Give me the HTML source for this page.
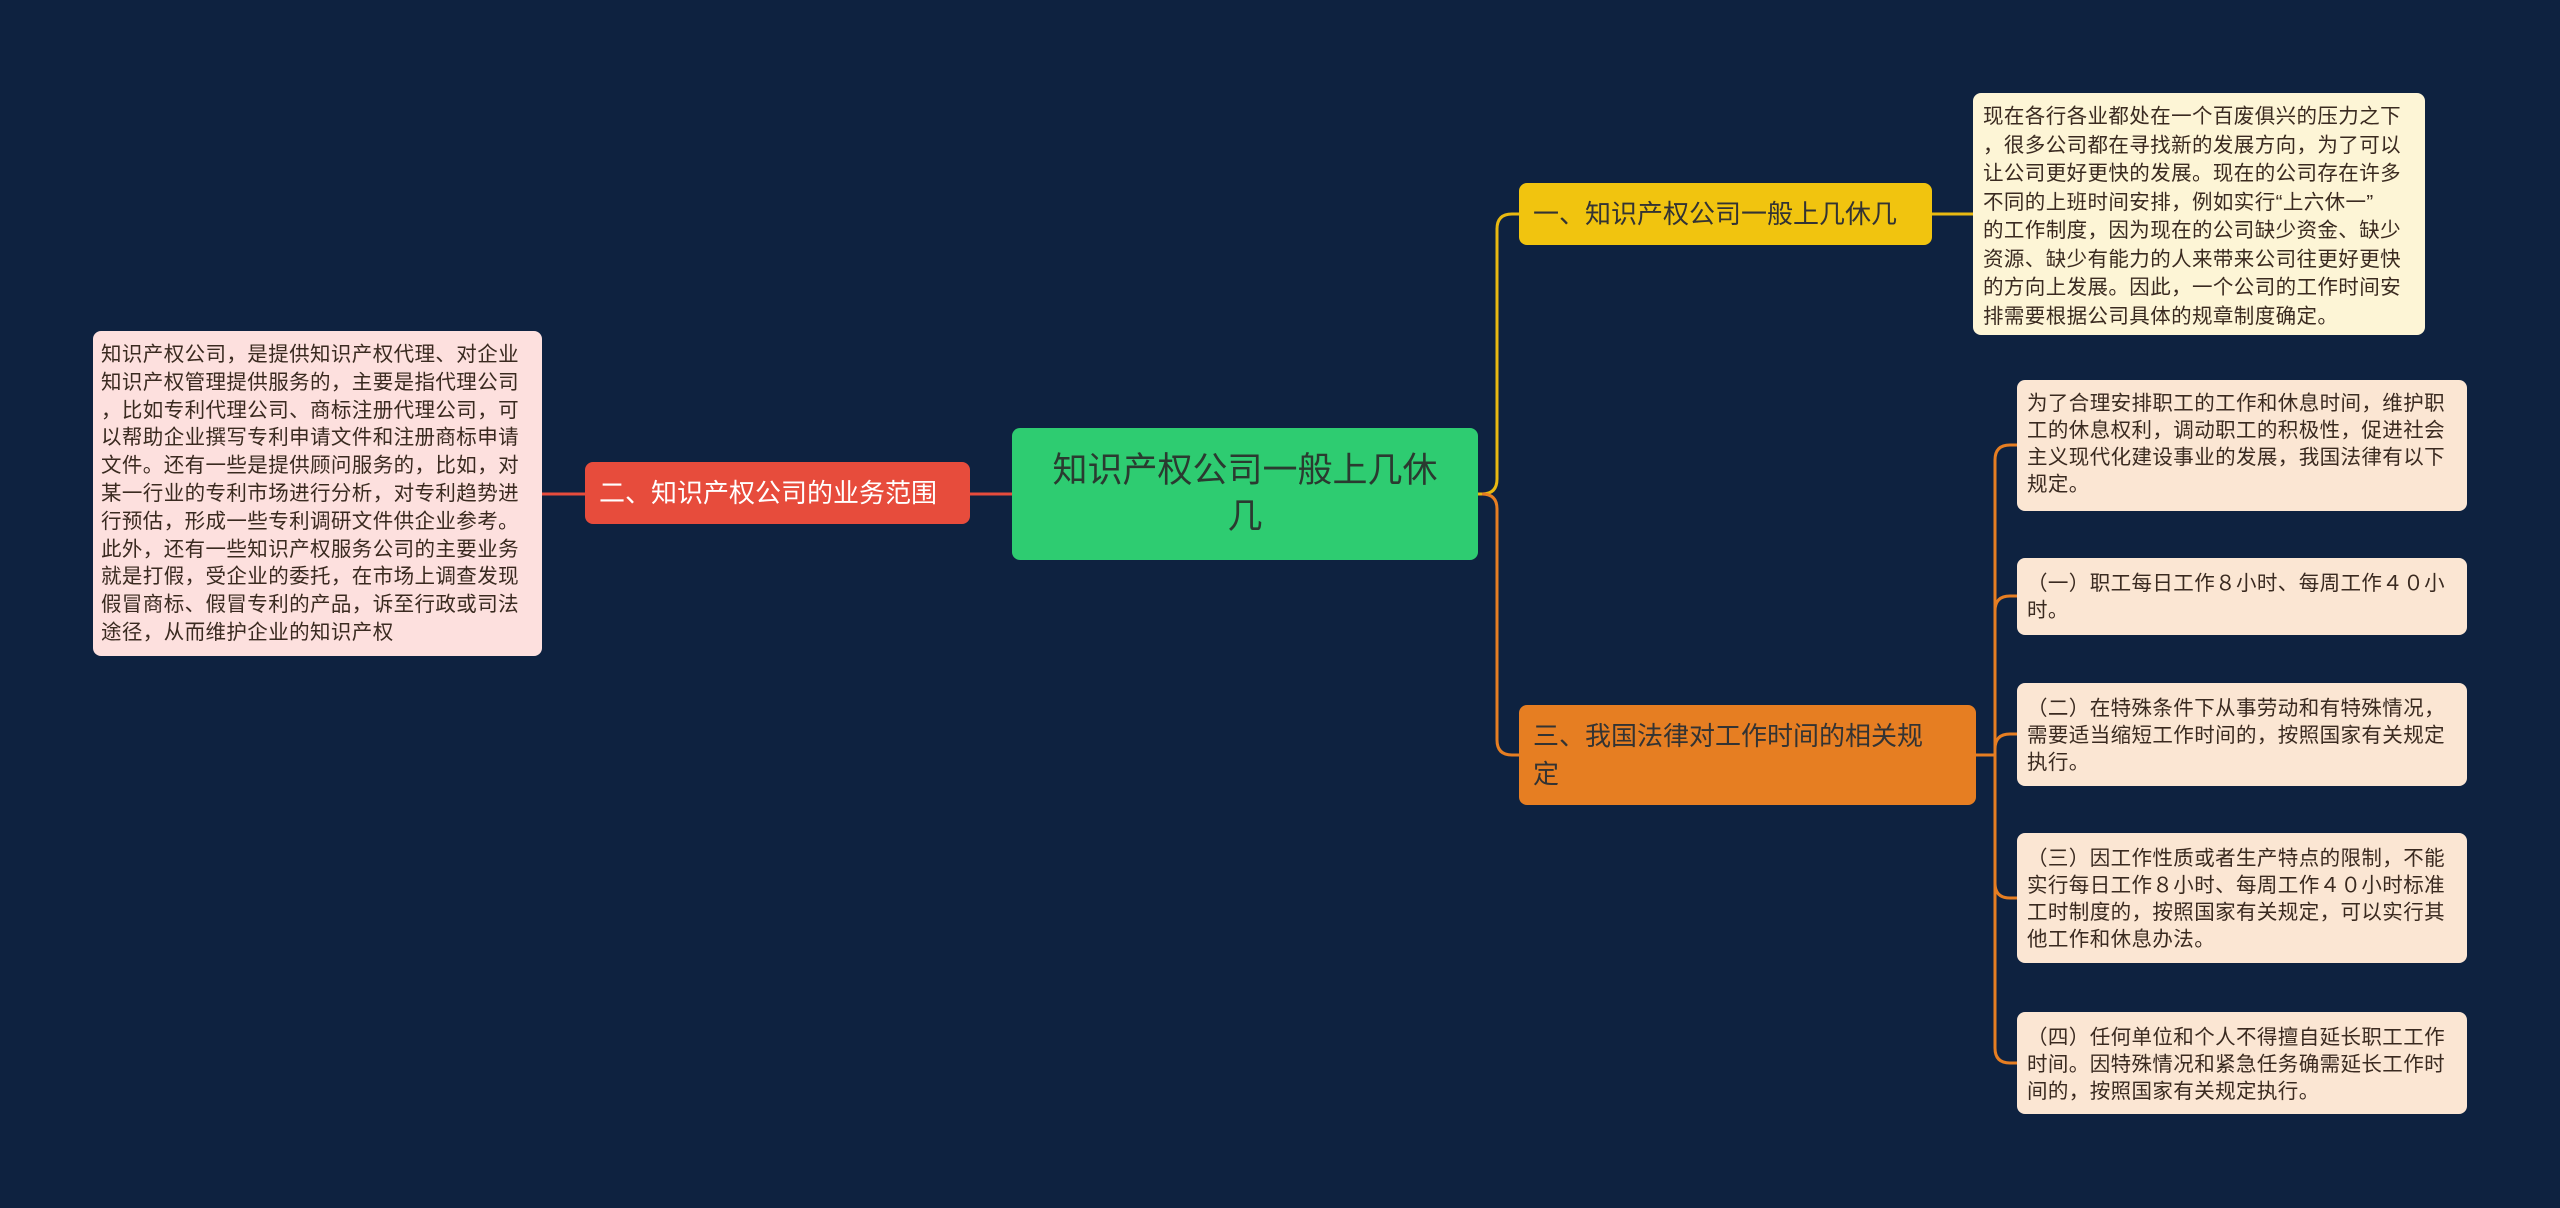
<!DOCTYPE html>
<html><head><meta charset="utf-8"><style>
body{margin:0;width:2560px;height:1208px;background:#0e2240;overflow:hidden;font-family:"Liberation Sans","Noto Sans CJK SC",sans-serif;position:relative}
.n{position:absolute;box-sizing:border-box;border-radius:8px}
.leaf{font-size:20.5px;line-height:27px;color:#3a2a20;padding:10px 10px;white-space:nowrap;letter-spacing:0.4px}
svg{position:absolute;left:0;top:0}
</style></head><body>
<svg width="2560" height="1208">
<g fill="none" stroke-width="3">
<path d="M1478 494 H1482 Q1497 494 1497 479 V229 Q1497 214 1512 214 H1519" stroke="#e8b911"/>
<path d="M1482 494 Q1497 494 1497 509 V740 Q1497 755 1512 755 H1519" stroke="#e67e22"/>
<path d="M1932 214 H1973" stroke="#e8b911"/>
<path d="M1976 755 H1995" stroke="#e67e22"/>
<path d="M1995 755 V460 Q1995 445 2010 445 H2017 M1995 755 V611 Q1995 596 2010 596 H2017 M1995 755 V749 Q1995 734 2010 734 H2017 M1995 755 V883 Q1995 898 2010 898 H2017 M1995 755 V1048 Q1995 1063 2010 1063 H2017" stroke="#e67e22"/>
<path d="M1012 494 H970 M585 494 H349" stroke="#e74c3c"/>
</g>
</svg>
<div class="n" style="left:1012px;top:428px;width:466px;height:132px;background:#2ecc71;color:#2a3a30;font-size:35px;line-height:46px;text-align:center;padding-top:20px">知识产权公司一般上几休<br>几</div>
<div class="n" style="left:1519px;top:183px;width:413px;height:62px;background:#f1c40f;color:#333;font-size:26px;line-height:62px;padding-left:14px">一、知识产权公司一般上几休几</div>
<div class="n" style="left:1519px;top:705px;width:457px;height:100px;background:#e67e22;color:#333;font-size:26px;line-height:38px;padding:12px 14px">三、我国法律对工作时间的相关规<br>定</div>
<div class="n" style="left:585px;top:462px;width:385px;height:62px;background:#e74c3c;color:#fff;font-size:26px;line-height:62px;padding-left:14px">二、知识产权公司的业务范围</div>
<div class="n leaf" style="left:1973px;top:93px;width:452px;height:242px;background:#fdf5d6;line-height:28.5px;padding-top:10px">现在各行各业都处在一个百废俱兴的压力之下<br>，很多公司都在寻找新的发展方向，为了可以<br>让公司更好更快的发展。现在的公司存在许多<br>不同的上班时间安排，例如实行“上六休一”<br>的工作制度，因为现在的公司缺少资金、缺少<br>资源、缺少有能力的人来带来公司往更好更快<br>的方向上发展。因此，一个公司的工作时间安<br>排需要根据公司具体的规章制度确定。</div>
<div class="n leaf" style="left:93px;top:331px;width:449px;height:325px;background:#fde0de;line-height:27.8px;padding:10px 8px">知识产权公司，是提供知识产权代理、对企业<br>知识产权管理提供服务的，主要是指代理公司<br>，比如专利代理公司、商标注册代理公司，可<br>以帮助企业撰写专利申请文件和注册商标申请<br>文件。还有一些是提供顾问服务的，比如，对<br>某一行业的专利市场进行分析，对专利趋势进<br>行预估，形成一些专利调研文件供企业参考。<br>此外，还有一些知识产权服务公司的主要业务<br>就是打假，受企业的委托，在市场上调查发现<br>假冒商标、假冒专利的产品，诉至行政或司法<br>途径，从而维护企业的知识产权</div>
<div class="n leaf" style="left:2017px;top:380px;width:450px;height:131px;background:#fbe6d3">为了合理安排职工的工作和休息时间，维护职<br>工的休息权利，调动职工的积极性，促进社会<br>主义现代化建设事业的发展，我国法律有以下<br>规定。</div>
<div class="n leaf" style="left:2017px;top:558px;width:450px;height:77px;background:#fbe6d3;padding-top:12px">（一）职工每日工作８小时、每周工作４０小<br>时。</div>
<div class="n leaf" style="left:2017px;top:683px;width:450px;height:103px;background:#fbe6d3;padding-top:12px">（二）在特殊条件下从事劳动和有特殊情况，<br>需要适当缩短工作时间的，按照国家有关规定<br>执行。</div>
<div class="n leaf" style="left:2017px;top:833px;width:450px;height:130px;background:#fbe6d3;padding-top:12px">（三）因工作性质或者生产特点的限制，不能<br>实行每日工作８小时、每周工作４０小时标准<br>工时制度的，按照国家有关规定，可以实行其<br>他工作和休息办法。</div>
<div class="n leaf" style="left:2017px;top:1012px;width:450px;height:102px;background:#fbe6d3;padding-top:12px">（四）任何单位和个人不得擅自延长职工工作<br>时间。因特殊情况和紧急任务确需延长工作时<br>间的，按照国家有关规定执行。</div>
</body></html>
